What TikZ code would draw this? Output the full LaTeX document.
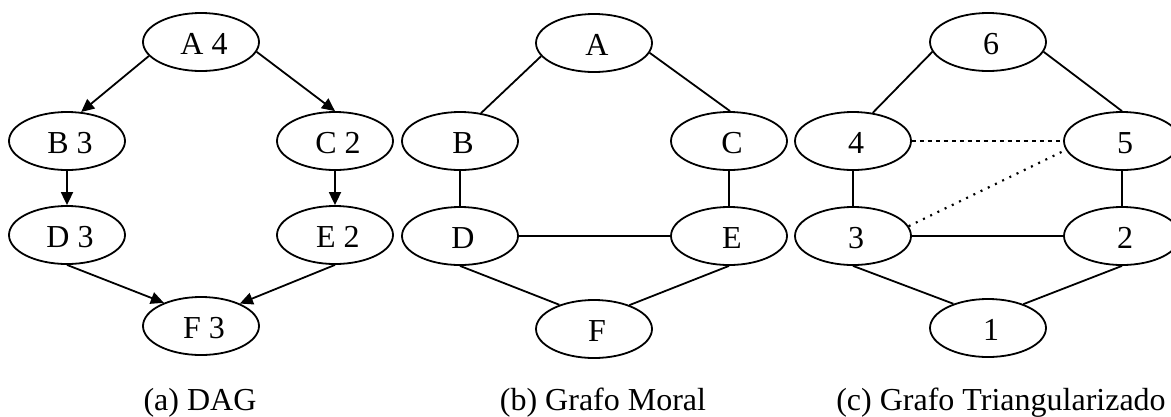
\documentclass[tikz,border=0pt]{standalone}
\usepackage{fontspec}
\setmainfont{Liberation Serif}
\usetikzlibrary{arrows.meta,shapes.geometric}
\tikzset{
  vnode/.style={ellipse, draw, line width=1.8pt, minimum width=116pt, minimum height=58pt, inner sep=0pt,
    text height=27pt, text depth=2pt,
    font=\fontsize{32}{38}\selectfont, execute at begin node={\hspace*{6pt}}},
  edge/.style={line width=1.8pt},
  arr/.style={edge, -{Triangle[length=13pt,width=12pt]}},
  dashedge/.style={edge, dash pattern=on 4pt off 4pt},
  dotedge/.style={line width=2.2pt, dash pattern=on 2pt off 6pt},
  caption/.style={anchor=base, font=\fontsize{32}{38}\selectfont, inner sep=0pt}
}
\begin{document}
\begin{tikzpicture}[x=1pt,y=-1pt]
\useasboundingbox (0,0) rectangle (1171,416);
% (a) DAG
\node[vnode] (aA) at (201,42) {A 4};
\node[vnode] (aB) at (67,141) {B 3};
\node[vnode] (aC) at (335,141) {C 2};
\node[vnode] (aD) at (67,235) {D 3};
\node[vnode] (aE) at (335,235) {E 2};
\node[vnode] (aF) at (201,326) {F 3};
\draw[arr] (aA.195) -- (aB.64);
\draw[arr] (aA.350) -- (aC.north);
\draw[arr] (aB.south) -- (aD.north);
\draw[arr] (aC.south) -- (aE.north);
\draw[arr] (aD.south) -- (aF.148);
\draw[arr] (aE.south) -- (aF.30);
\node[caption] (capa) at (200,410) {(a) DAG};
% (b) Grafo Moral
\node[vnode] (bA) at (594,43) {A};
\node[vnode] (bB) at (460,141) {B};
\node[vnode] (bC) at (729,141) {C};
\node[vnode] (bD) at (460,236) {D};
\node[vnode] (bE) at (729,236) {E};
\node[vnode] (bF) at (594,329) {F};
\draw[edge] (bA.194) -- (bB.53);
\draw[edge] (bA.350) -- (bC.88);
\draw[edge] (bB.south) -- (bD.north);
\draw[edge] (bC.south) -- (bE.north);
\draw[edge] (bD.east) -- (bE.west);
\draw[edge] (bD.south) -- (bF.145);
\draw[edge] (bE.south) -- (bF.34);
\node[caption] (capb) at (603,410) {(b) Grafo Moral};
% (c) Grafo Triangularizado
\node[vnode] (c6) at (988,42) {6};
\node[vnode] (c4) at (853,141) {4};
\node[vnode] (c5) at (1122,141) {5};
\node[vnode] (c3) at (853,236) {3};
\node[vnode] (c2) at (1122,236) {2};
\node[vnode] (c1) at (988,328) {1};
\draw[edge] (c6.190) -- (c4.55);
\draw[edge] (c6.350) -- (c5.north);
\draw[dashedge] (c4.east) -- (c5.west);
\draw[dotedge] (c3.10) -- (c5.189);
\draw[edge] (c4.south) -- (c3.north);
\draw[edge] (c5.south) -- (c2.north);
\draw[edge] (c3.east) -- (c2.west);
\draw[edge] (c3.south) -- (c1.145);
\draw[edge] (c2.south) -- (c1.34);
\node[caption] (capc) at (1001,410) {(c) Grafo Triangularizado};
\end{tikzpicture}
\end{document}
